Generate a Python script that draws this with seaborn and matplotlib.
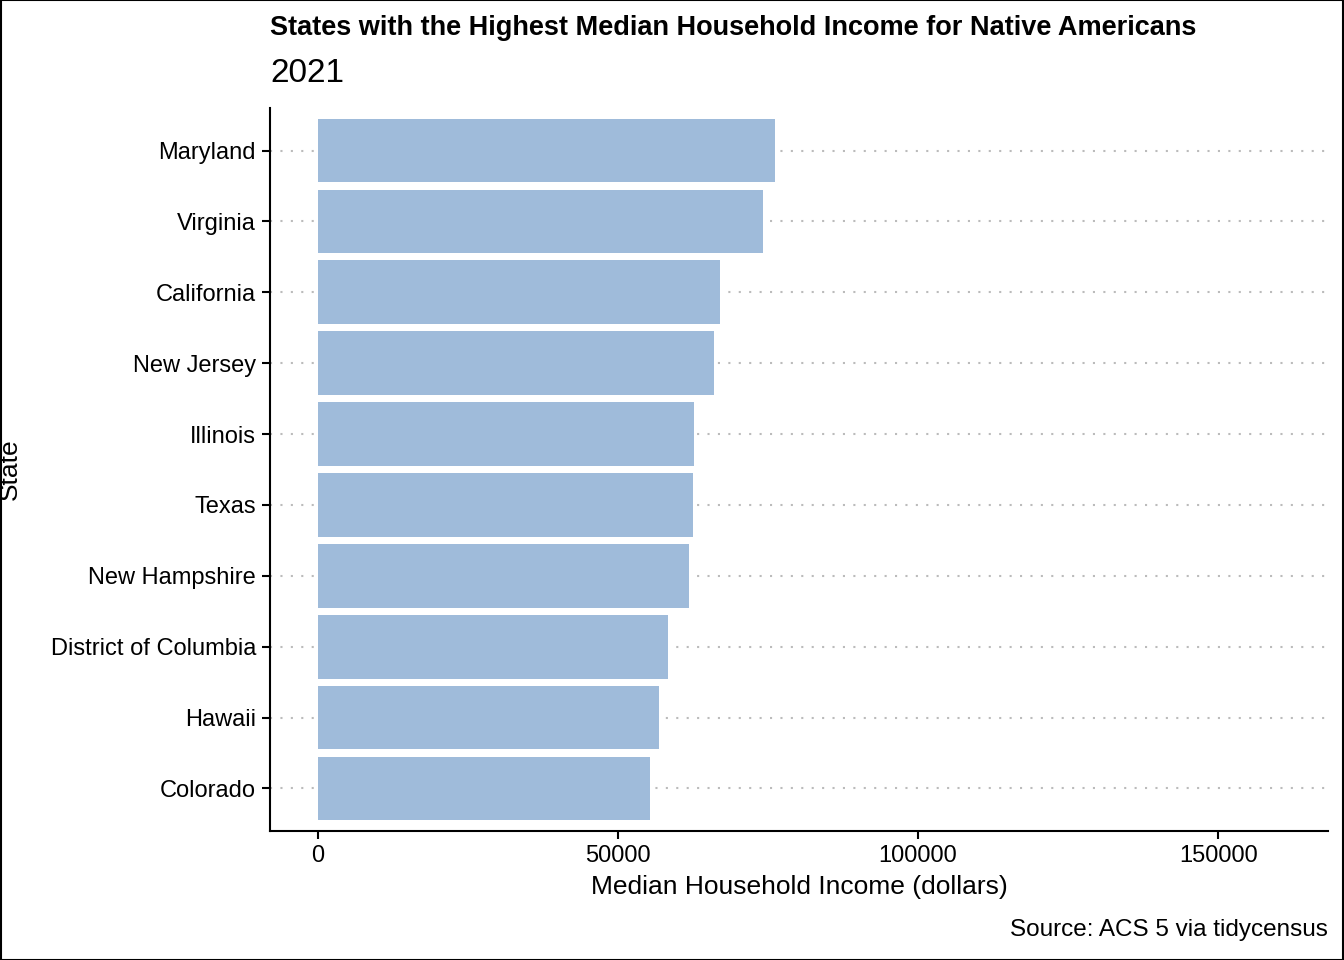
import matplotlib
matplotlib.use('Agg')
import matplotlib.pyplot as plt
import seaborn as sns
import pandas as pd

states = ["Maryland", "Virginia", "California", "New Jersey", "Illinois", "Texas",
          "New Hampshire", "District of Columbia", "Hawaii", "Colorado"]
income = [76170, 74200, 67000, 66000, 62700, 62500, 61800, 58300, 56800, 55300]

df = pd.DataFrame({"state": states, "income": income})

sns.set_theme(style="white")
plt.rcParams['font.family'] = ['Liberation Sans', 'DejaVu Sans']
plt.rcParams['text.color'] = 'black'

fig = plt.figure(figsize=(13.44, 9.6), dpi=100)
ax = fig.add_axes([270 / 1344, 1 - 831 / 960, 1058 / 1344, 723 / 960])

sns.barplot(data=df, x="income", y="state", order=states, color="#9fbbda",
            saturation=1, width=0.9, linewidth=0, ax=ax)
ax.set_axisbelow(True)
ax.grid(axis="y", linestyle=(0, (1, 4)), color="#bbbbbb", linewidth=1.5)
ax.grid(axis="x", visible=False)

ax.set_xlim(-8000, 168300)
ax.set_ylim(len(states) - 0.4, -0.6)
ax.set_xticks([0, 50000, 100000, 150000])
ax.set_xticklabels(["0", "50000", "100000", "150000"])

for s in ["top", "right"]:
    ax.spines[s].set_visible(False)
for s in ["left", "bottom"]:
    ax.spines[s].set_color("black")
    ax.spines[s].set_linewidth(1.5)
ax.tick_params(axis="both", length=6, width=1.5, color="black", labelsize=17,
               labelcolor="black", bottom=True, left=True, pad=4)

ax.set_xlabel("Median Household Income (dollars)", fontsize=19, color="black", labelpad=6)
ax.set_ylabel("State", fontsize=19, color="black")
ax.yaxis.set_label_coords(-0.235, 0.5)

fig.text(270 / 1344, 1 - 28 / 960, "States with the Highest Median Household Income for Native Americans",
         fontsize=19.5, fontweight="bold", va="center", ha="left")
fig.text(270 / 1344, 1 - 73 / 960, "2021", fontsize=24, va="center", ha="left")
fig.text(1328 / 1344, 1 - 930 / 960, "Source: ACS 5 via tidycensus", fontsize=17.5,
         va="center", ha="right")

fig.patches.append(plt.Rectangle((0.0005, 0.0005), 0.999, 0.999, transform=fig.transFigure,
                                 fill=False, edgecolor="black", linewidth=1.5))

fig.savefig("out.png", dpi=100)
